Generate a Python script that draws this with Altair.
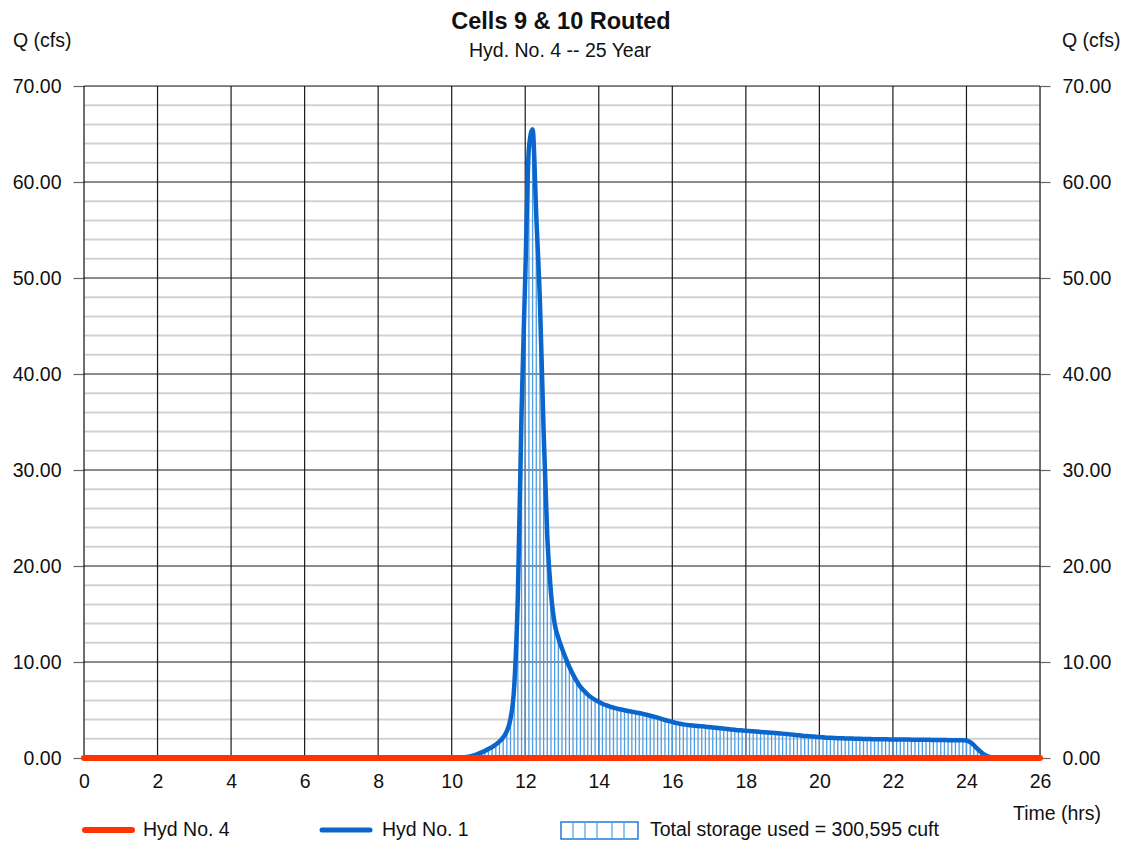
import altair as alt
import pandas as pd

# ---------------- data ----------------
hours = [10.0, 10.1, 10.2, 10.3, 10.4, 10.5, 10.6, 10.7, 10.8, 10.9,
         11.0, 11.1, 11.2, 11.3, 11.4, 11.5, 11.6, 11.7, 11.8, 11.9,
         12.0, 12.1, 12.2, 12.3, 12.4, 12.5, 12.6, 12.7, 12.8, 12.9,
         13.0, 13.1, 13.2, 13.3, 13.4, 13.5, 13.6, 13.7, 13.8, 13.9,
         14.0, 14.1, 14.2, 14.3, 14.4, 14.5, 14.6, 14.7, 14.8, 14.9,
         15.0, 15.1, 15.2, 15.3, 15.4, 15.5, 15.6, 15.7, 15.8, 15.9,
         16.0, 16.1, 16.2, 16.3, 16.4, 16.5, 16.6, 16.7, 16.8, 16.9,
         17.0, 17.1, 17.2, 17.3, 17.4, 17.5, 17.6, 17.7, 17.8, 17.9,
         18.0, 18.1, 18.2, 18.3, 18.4, 18.5, 18.6, 18.7, 18.8, 18.9,
         19.0, 19.1, 19.2, 19.3, 19.4, 19.5, 19.6, 19.7, 19.8, 19.9,
         20.0, 20.1, 20.2, 20.3, 20.4, 20.5, 20.6, 20.7, 20.8, 20.9,
         21.0, 21.1, 21.2, 21.3, 21.4, 21.5, 21.6, 21.7, 21.8, 21.9,
         22.0, 22.1, 22.2, 22.3, 22.4, 22.5, 22.6, 22.7, 22.8, 22.9,
         23.0, 23.1, 23.2, 23.3, 23.4, 23.5, 23.6, 23.7, 23.8, 23.9,
         24.0, 24.1, 24.2, 24.3, 24.4, 24.5, 24.6, 24.7, 24.8]

flow_hyd1 = [0.00, 0.01, 0.03, 0.06, 0.10, 0.17, 0.27, 0.40, 0.56, 0.74,
             0.94, 1.15, 1.40, 1.72, 2.15, 2.80, 4.10, 7.40, 17.0, 36.0,
             50.0, 63.5, 65.5, 56.5, 47.5, 34.0, 23.0, 17.2, 14.0, 12.5,
             11.4, 10.4, 9.5, 8.7, 8.0, 7.4, 7.0, 6.6, 6.3, 6.05,
             5.85, 5.65, 5.5, 5.35, 5.25, 5.15, 5.05, 4.97, 4.9, 4.83,
             4.75, 4.68, 4.6, 4.5, 4.4, 4.3, 4.2, 4.08, 3.97, 3.86,
             3.76, 3.66, 3.57, 3.5, 3.45, 3.41, 3.37, 3.33, 3.3, 3.26,
             3.22, 3.18, 3.14, 3.1, 3.06, 3.02, 2.98, 2.94, 2.9, 2.87,
             2.84, 2.81, 2.78, 2.75, 2.72, 2.69, 2.66, 2.63, 2.6, 2.57,
             2.54, 2.5, 2.46, 2.42, 2.38, 2.34, 2.3, 2.27, 2.24, 2.21,
             2.19, 2.16, 2.12, 2.1, 2.08, 2.06, 2.05, 2.04, 2.03, 2.02,
             2.01, 2.0, 1.99, 1.98, 1.97, 1.96, 1.96, 1.95, 1.95, 1.94,
             1.94, 1.93, 1.93, 1.92, 1.92, 1.91, 1.91, 1.9, 1.9, 1.89,
             1.89, 1.88, 1.88, 1.87, 1.87, 1.86, 1.86, 1.86, 1.85, 1.85,
             1.82, 1.65, 1.35, 0.95, 0.6, 0.32, 0.14, 0.05, 0.0]

hyd4_hours = [0, 26]
hyd4_flow = [0, 0]

x_ticks = [0, 2, 4, 6, 8, 10, 12, 14, 16, 18, 20, 22, 24, 26]
y_major = [0, 10, 20, 30, 40, 50, 60, 70]
y_minor = [2, 4, 6, 8, 12, 14, 16, 18, 22, 24, 26, 28, 32, 34, 36, 38,
           42, 44, 46, 48, 52, 54, 56, 58, 62, 64, 66, 68]

title_text = "Cells 9 & 10 Routed"
subtitle_text = "Hyd. No. 4 -- 25 Year"
y_title = "Q (cfs)"
x_title = "Time (hrs)"
legend_hyd4 = "Hyd No. 4"
legend_hyd1 = "Hyd No. 1"
legend_storage = "Total storage used = 300,595 cuft"

# ---------------- styling ----------------
W, H = 956, 672
FONT = "Liberation Sans"
FS = 19.5
TXT = "#111111"
ORANGE = "#ff3300"
BLUE = "#0a66cc"
HATCH = "#4f9de2"

xs = alt.Scale(domain=[0, 26], nice=False, zero=False)
ys = alt.Scale(domain=[0, 70], nice=False, zero=True)

hyd = pd.DataFrame({"t": hours, "q": flow_hyd1})
hyd4 = pd.DataFrame({"t": hyd4_hours, "q": hyd4_flow})
one = pd.DataFrame({"a": [0]})

left_axis = alt.Axis(values=y_major, format=".2f", orient="left", grid=False,
                     domain=False, tickSize=11, tickColor="#666666", tickWidth=1.2,
                     labelPadding=12, labelFont=FONT, labelFontSize=FS,
                     labelColor=TXT, labelFlush=False, title=None)
right_axis = alt.Axis(values=y_major, format=".2f", orient="right", grid=False,
                      domain=False, tickSize=10, tickColor="#666666", tickWidth=1.2,
                      labelPadding=12, labelFont=FONT, labelFontSize=FS,
                      labelColor=TXT, labelFlush=False, title=None)
x_axis = alt.Axis(values=x_ticks, format="d", orient="bottom", grid=False,
                  domain=False, tickSize=0, labelPadding=14, labelFont=FONT,
                  labelFontSize=FS, labelColor=TXT, labelFlush=False, title=None)


def X(field="t:Q"):
    return alt.X(field, scale=xs, axis=x_axis)


minor = alt.Chart(pd.DataFrame({"q": y_minor})).mark_rule(
    color="#d2d2d2", strokeWidth=2
).encode(y=alt.Y("q:Q", scale=ys, axis=None))

major_h = alt.Chart(pd.DataFrame({"q": y_major})).mark_rule(
    color="#1a1a1a", strokeWidth=1.2
).encode(y=alt.Y("q:Q", scale=ys, axis=left_axis))

major_v = alt.Chart(pd.DataFrame({"t": x_ticks})).mark_rule(
    color="#1a1a1a", strokeWidth=1.2
).encode(x=X())

hatch = alt.Chart(hyd).mark_rule(color=HATCH, strokeWidth=1.3).encode(
    x=X(),
    y=alt.Y("q:Q", scale=ys, axis=None),
    y2=alt.datum(0),
)

line1 = alt.Chart(hyd).mark_line(
    color=BLUE, strokeWidth=4.5, interpolate="monotone", strokeCap="round",
    strokeJoin="round"
).encode(x=X(), y=alt.Y("q:Q", scale=ys, axis=None))

line4 = alt.Chart(hyd4).mark_line(
    color=ORANGE, strokeWidth=6, strokeCap="round"
).encode(x=X(), y=alt.Y("q:Q", scale=ys, axis=None))

right = alt.Chart(pd.DataFrame({"q": y_major})).mark_rule(opacity=0).encode(
    y=alt.Y("q:Q", scale=ys, axis=right_axis))


def txt(text, x, y, size=FS, align="left", weight="normal"):
    return alt.Chart(one).mark_text(
        text=text, font=FONT, fontSize=size, fontWeight=weight, color=TXT,
        align=align, baseline="alphabetic"
    ).encode(x=alt.value(x), y=alt.value(y))


texts = [
    txt(title_text, 477, -57, size=23.5, align="center", weight="bold"),
    txt(subtitle_text, 476, -29, size=FS, align="center"),
    txt(y_title, -71, -39),
    txt(y_title, 978, -39),
    txt(x_title, 929, 734),
    txt(legend_hyd4, 59, 750),
    txt(legend_hyd1, 298, 750),
    txt(legend_storage, 566, 750),
]

leg_line4 = alt.Chart(one).mark_rule(color=ORANGE, strokeWidth=6, strokeCap="round").encode(
    x=alt.value(1), x2=alt.value(48), y=alt.value(744))
leg_line1 = alt.Chart(one).mark_rule(color=BLUE, strokeWidth=5, strokeCap="round").encode(
    x=alt.value(238), x2=alt.value(286), y=alt.value(744))
leg_box = alt.Chart(one).mark_rect(fill="white", stroke="#2a7ad6", strokeWidth=1.5).encode(
    x=alt.value(477), x2=alt.value(554), y=alt.value(736), y2=alt.value(753))
leg_hatch = [
    alt.Chart(one).mark_rule(color=HATCH, strokeWidth=1.2).encode(
        x=alt.value(px), y=alt.value(736), y2=alt.value(753))
    for px in (489, 501, 513, 528, 540)
]

chart = alt.layer(
    minor, major_h, major_v, hatch, line1, line4, right,
    leg_line4, leg_line1, leg_box, *leg_hatch, *texts
).resolve_scale(y="independent").properties(
    width=W, height=H,
    autosize=alt.AutoSizeParams(type="none"),
    padding={"left": 76, "top": 78, "right": 82, "bottom": 82},
).configure_view(stroke=None).configure(background="white")

chart.save("out.html", embed_options={"renderer": "svg", "actions": False})
